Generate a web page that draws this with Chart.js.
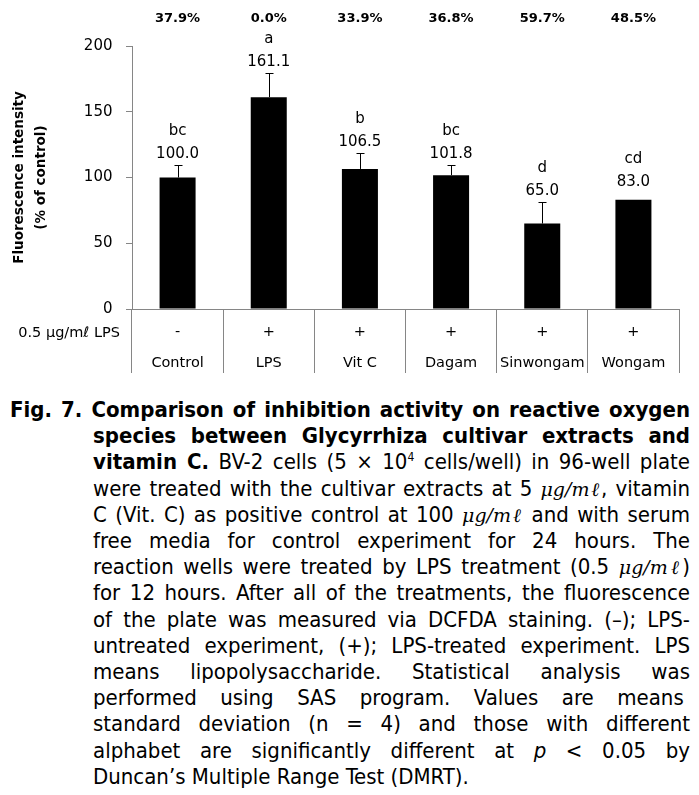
<!DOCTYPE html>
<html>
<head>
<meta charset="utf-8">
<script src="https://cdn.jsdelivr.net/npm/chart.js@4.4.0/dist/chart.umd.min.js"></script>
<style>
  body { margin: 0; background: #fff; width: 699px; }
  #wrap { position: relative; width: 699px; height: 378px; }
  .caption {
    margin-top: 19px;
    padding-left: 93px;
    padding-right: 9px;
    font-family: "Liberation Sans Narrow", "DejaVu Sans Condensed", sans-serif;
    font-size: 22px;
    line-height: 26.2px;
    color: #000;
  }
  .ln { text-align: justify; text-align-last: justify; white-space: nowrap; }
  .ln.last { text-align-last: left; }
  .first { text-indent: -83px; }
  .u { font-family: "DejaVu Serif", serif; font-style: italic; font-size: 19px; }
  sup { font-size: 12px; line-height: 0; }
</style>
</head>
<body>
<div id="wrap"><canvas id="myChart" width="699" height="378"></canvas></div>
<div class="caption">
  <div class="ln first"><b>Fig. 7. Comparison of inhibition activity on reactive oxygen</b></div>
  <div class="ln"><b>species between Glycyrrhiza cultivar extracts and</b></div>
  <div class="ln"><b>vitamin C.</b> BV-2 cells (5 × 10<sup>4</sup> cells/well) in 96-well plate</div>
  <div class="ln">were treated with the cultivar extracts at 5 <span class="u">μg/mℓ</span>, vitamin</div>
  <div class="ln">C (Vit. C) as positive control at 100 <span class="u">μg/mℓ</span> and with serum</div>
  <div class="ln">free media for control experiment for 24 hours. The</div>
  <div class="ln">reaction wells were treated by LPS treatment (0.5 <span class="u">μg/mℓ</span>)</div>
  <div class="ln">for 12 hours. After all of the treatments, the fluorescence</div>
  <div class="ln">of the plate was measured via DCFDA staining. (–); LPS-</div>
  <div class="ln">untreated experiment, (+); LPS-treated experiment. LPS</div>
  <div class="ln">means lipopolysaccharide. Statistical analysis was</div>
  <div class="ln">performed using SAS program. Values are means&nbsp;</div>
  <div class="ln">standard deviation (n = 4) and those with different</div>
  <div class="ln">alphabet are significantly different at <i>p</i> &lt; 0.05 by</div>
  <div class="ln last">Duncan’s Multiple Range Test (DMRT).</div>
</div>
<script>
const groups = ['Control', 'LPS', 'Vit C', 'Dagam', 'Sinwongam', 'Wongam'];
const lpsMarks = ['-', '+', '+', '+', '+', '+'];
const intensity = [100.0, 161.1, 106.5, 101.8, 65.0, 83.0];
const stdDev = [9.2, 18.5, 12.1, 7.9, 16.3, 0];
const letters = ['bc', 'a', 'b', 'bc', 'd', 'cd'];
const inhibition = ['37.9%', '0.0%', '33.9%', '36.8%', '59.7%', '48.5%'];
const yTicks = [0, 50, 100, 150, 200];
const rowLabel = '0.5 μg/mℓ LPS';

const FONT = 'DejaVu Sans';
const AXIS_GREY = '#868686';

const annotations = {
    id: 'annotations',
    afterDatasetsDraw(chart) {
        const { ctx, scales: { x, y }, chartArea } = chart;
        ctx.save();
        // error bars (upper half only, like the original)
        ctx.strokeStyle = '#000';
        ctx.lineWidth = 1;
        intensity.forEach((v, i) => {
            if (!stdDev[i]) return;
            const px = Math.round(x.getPixelForValue(i)) + 0.5;
            const yTop = Math.round(y.getPixelForValue(v + stdDev[i])) + 0.5;
            ctx.beginPath();
            ctx.moveTo(px, y.getPixelForValue(v));
            ctx.lineTo(px, yTop);
            ctx.moveTo(px - 4, yTop);
            ctx.lineTo(px + 4, yTop);
            ctx.stroke();
        });
        // value and significance letters
        ctx.fillStyle = '#000';
        ctx.textAlign = 'center';
        ctx.textBaseline = 'middle';
        ctx.font = '15px "' + FONT + '"';
        intensity.forEach((v, i) => {
            const px = x.getPixelForValue(i);
            const yTop = y.getPixelForValue(v + stdDev[i]);
            const off = stdDev[i] ? 11 : 18;
            ctx.fillText(v.toFixed(1), px, yTop - off);
            ctx.fillText(letters[i], px, yTop - off - 23);
        });
        // inhibition percentages on top
        ctx.font = 'bold 13px "' + FONT + '"';
        inhibition.forEach((t, i) => {
            ctx.fillText(t, x.getPixelForValue(i), chartArea.top - 27.5);
        });
        // row label for the LPS line
        ctx.font = '14.5px "' + FONT + '"';
        ctx.textAlign = 'right';
        ctx.fillText(rowLabel, 120, chartArea.bottom + 24);
        ctx.restore();
    }
};

const ctx = document.getElementById('myChart').getContext('2d');
new Chart(ctx, {
    type: 'bar',
    data: {
        labels: groups.map((g, i) => [lpsMarks[i], g]),
        datasets: [{
            data: intensity,
            backgroundColor: '#000',
            borderWidth: 0,
            barPercentage: 0.395,
            categoryPercentage: 1
        }]
    },
    options: {
        responsive: false,
        animation: false,
        devicePixelRatio: 1,
        layout: { padding: { top: 46, right: 20, left: 0, bottom: 0 } },
        plugins: { legend: { display: false }, tooltip: { enabled: false } },
        scales: {
            x: {
                grid: {
                    offset: true,
                    drawOnChartArea: false,
                    tickLength: 64,
                    color: AXIS_GREY
                },
                border: { color: AXIS_GREY },
                ticks: {
                    color: '#000',
                    padding: -56.5,
                    maxRotation: 0,
                    autoSkip: false,
                    font: { family: FONT, size: 14.5, lineHeight: '31px' }
                },
                afterFit(s) { s.height = 69; }
            },
            y: {
                min: 0,
                max: 200,
                afterBuildTicks(s) { s.ticks = yTicks.map(v => ({ value: v })); },
                grid: { drawOnChartArea: false, tickLength: 6, color: AXIS_GREY },
                border: { color: AXIS_GREY },
                ticks: {
                    color: '#000',
                    padding: 13.5,
                    font: { family: FONT, size: 15 }
                },
                title: {
                    display: true,
                    text: ['Fluorescence intensity', '(% of control)'],
                    color: '#000',
                    padding: { top: 8, bottom: 0 },
                    font: { family: FONT, size: 13.5, weight: 'bold', lineHeight: '22px' }
                },
                afterFit(s) { s.width = 132; }
            }
        }
    },
    plugins: [annotations]
});
</script>
</body>
</html>
